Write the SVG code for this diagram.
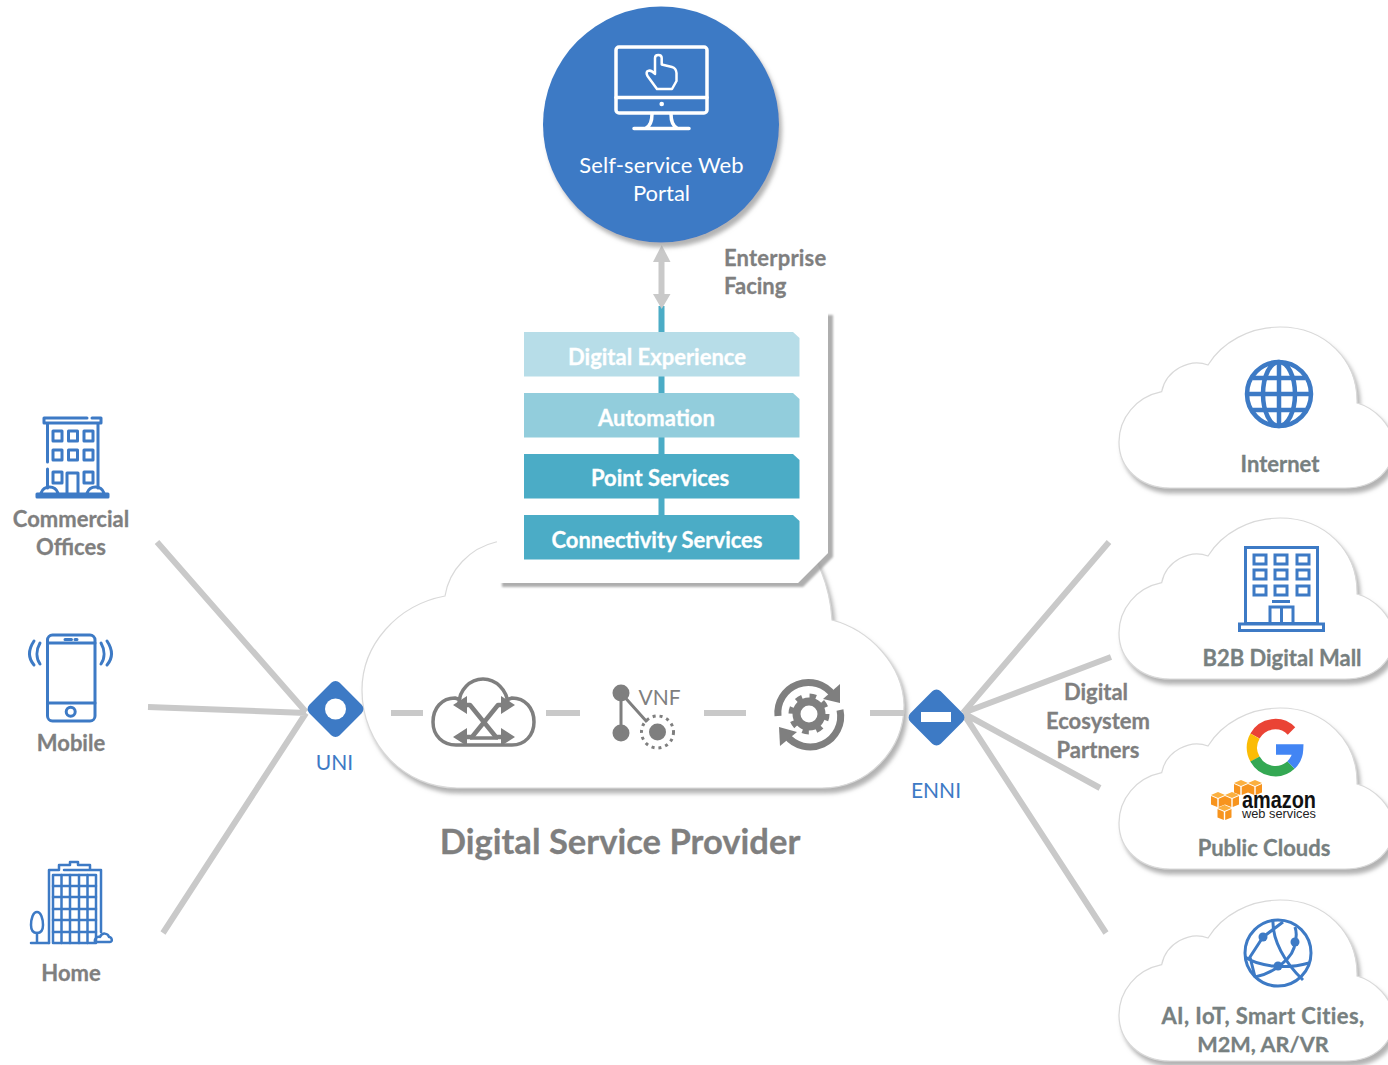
<svg xmlns="http://www.w3.org/2000/svg" width="1388" height="1065" viewBox="0 0 1388 1065">
<style>
text{font-family:"Lato","Open Sans","Liberation Sans",sans-serif;text-anchor:middle}
.lbl{font-weight:700;font-size:22px;fill:#7f7f7f;stroke:#7f7f7f;stroke-width:.3}
.rl{font-weight:700;font-size:22px;fill:#778080;stroke:#778080;stroke-width:.3}
.bar{font-weight:700;font-size:22px;fill:#fff;stroke:#fff;stroke-width:.3}
.blue{font-size:21px;fill:#3d7ac5}
.ic{fill:none;stroke:#3d7ac5;stroke-width:3;stroke-linejoin:round;stroke-linecap:round}
.gi{fill:none;stroke:#7f7f7f;stroke-width:3.5;stroke-linejoin:round}
.gf{fill:#7f7f7f}
.cl{fill:#fff;stroke:#d9d9d9;stroke-width:1.2;filter:url(#sh)}
.ln{stroke:#c9c9c9;stroke-width:6;fill:none}
</style>
<defs>
<filter id="sh" x="-10%" y="-10%" width="125%" height="125%"><feDropShadow dx="3" dy="5" stdDeviation="2" flood-color="#9a9a9a" flood-opacity=".75"/></filter>
<filter id="shp" x="-5%" y="-5%" width="115%" height="115%"><feDropShadow dx="5" dy="4" stdDeviation="1.300" flood-color="#9a9a9a" flood-opacity=".8"/></filter>
<path id="cloud" d="M1161.7 391.7C1166 370 1190 358 1208 365C1222 342 1250 327 1280 327C1325 327 1358 360 1357 403C1375 408 1392 425 1394 445C1394 470 1375 488 1345 488L1170 488C1140 488 1119 468 1119 442C1119 418 1136 397 1161.7 391.7Z"/>
<g id="cube"><path d="M0 -6L7 -3L0 0L-7 -3Z" fill="#fbb040"/><path d="M-7 -2L-.7 .8V9L-7 6.500Z" fill="#f7941e"/><path d="M7 -2L.7 .8V9L7 6.500Z" fill="#f7941e"/></g>
</defs>

<g id="connectors">
<path class="ln" d="M157 542L306 712M148 707L306 713M163 933L306 713"/>
<path class="ln" d="M1109 542L963 713M1111 657L963 713M1100 788L963 713M1106 933L963 713"/>
</g>

<g id="provider-cloud">
<path class="cl" d="M445 596C449 570 470 548 496 542L600 530L800 540C815 550 830 585 832 620C870 630 903 665 904 705C904 750 868 788 822 788L457 788C405 788 362 745 362 690C362 645 397 605 445 596Z"/>
<text x="620" y="854" style="font-weight:700;font-size:34.600px;fill:#7f7f7f;stroke:#7f7f7f;stroke-width:.3">Digital Service Provider</text>
<path class="ln" d="M391 713H423M546 713H580M704 713H746M870 713H904"/>
</g>

<g id="switch-icon">
<path class="gi" d="M461 700L455 698C442 698 433 708 433 722C433 736 443 745 456 745H512C525 745 534 735 534 722C534 708 525 698 512 698L506 700"/>
<path class="gi" d="M459 704C459 690 470 679 483 679C496 679 507 690 508 704"/>
<path class="gi" style="stroke-width:4.500" d="M460 705H470L496 737H508M508 705H498L472 737H460"/>
<path class="gi" d="M470 738H498"/>
<path class="gf" d="M453 705L467 696V714ZM515 705L501 696V714ZM453 737L467 728V746ZM515 737L501 728V746Z"/>
</g>

<g id="vnf-icon">
<circle class="gf" cx="621" cy="693" r="8.500"/><circle class="gf" cx="621" cy="733" r="8.500"/>
<path d="M621 693V733M621 693L647 722" stroke="#7f7f7f" stroke-width="3" fill="none"/>
<circle class="gf" cx="657.500" cy="732" r="8.500"/>
<circle cx="657.500" cy="732" r="16" fill="none" stroke="#7f7f7f" stroke-width="3" stroke-dasharray="3 4"/>
<text x="659.500" y="705" style="font-size:21px;fill:#7f7f7f">VNF</text>
</g>

<g id="gear-icon">
<path d="M778 716A30.500 30.500 0 0 1 833 695" fill="none" stroke="#7f7f7f" stroke-width="7"/>
<path class="gf" d="M840 684L840 703L823 699Z"/>
<path d="M840 710A30.500 30.500 0 0 1 786 735" fill="none" stroke="#7f7f7f" stroke-width="7"/>
<path class="gf" d="M780 746L779 727L797 732Z"/>
<circle cx="809" cy="714" r="18" fill="none" stroke="#7f7f7f" stroke-width="5" stroke-dasharray="6.500 7.640"/>
<circle cx="809" cy="714" r="12.500" fill="none" stroke="#7f7f7f" stroke-width="8"/>
</g>

<g id="stack-panel">
<path d="M497 311H828V553L798 583H497Z" fill="#fff" filter="url(#shp)"/>
<path d="M488 300H826V311H488ZM488 300H499V541H488Z" fill="#fff"/>
<path d="M661.500 306V515" stroke="#4bacc6" stroke-width="6"/>
</g>

<g id="portal-link">
<path d="M661.500 258V298" stroke="#c9c9c9" stroke-width="6"/>
<path d="M661.700 245L670.500 262H653Z" fill="#c9c9c9"/>
<path d="M661.700 309L670.500 294H653Z" fill="#c9c9c9"/>
</g>

<g id="digital-experience"><path d="M524 332H793L799.500 338V376.500H524Z" fill="#b7dde8"/><text class="bar" x="657" y="365">Digital Experience</text></g>
<g id="automation"><path d="M524 393H793L799.500 399V437.500H524Z" fill="#92cddc"/><text class="bar" x="656.500" y="426">Automation</text></g>
<g id="point-services"><path d="M524 454H793L799.500 460V498.500H524Z" fill="#4bacc6"/><text class="bar" x="660" y="486">Point Services</text></g>
<g id="connectivity-services"><path d="M524 515H793L799.500 521V559.500H524Z" fill="#4bacc6"/><text class="bar" x="657" y="548">Connectivity Services</text></g>

<g id="enterprise-facing">
<text class="lbl" x="724" y="266" style="text-anchor:start;letter-spacing:.2px">Enterprise</text>
<text class="lbl" x="724" y="294" style="text-anchor:start">Facing</text>
</g>

<g id="portal">
<circle cx="661" cy="124.500" r="118" fill="#3d7ac5" filter="url(#sh)"/>
<g fill="none" stroke="#fff" stroke-width="3.500" stroke-linejoin="round" stroke-linecap="round">
<rect x="616" y="47" width="91" height="66" rx="3"/>
<path d="M616 97.500H707M652 114C652 122 650 126 646 128M671 114C671 122 673 126 677 128M634 128.500H689"/>
<path stroke-width="2.500" d="M655 70V58Q655 55 658.300 55Q661.700 55 661.700 58V64.500L672 67Q676 68 676.500 73V81L672 89H657L647.500 76Q645.500 72 648 71Q651 69.500 655 74Z"/>
</g>
<circle cx="661.700" cy="104" r="2.300" fill="#fff"/>
<text x="661.500" y="173" style="font-size:22px;fill:#fff;letter-spacing:.1px">Self-service Web</text>
<text x="661.500" y="201" style="font-size:22px;fill:#fff">Portal</text>
</g>

<g id="uni">
<rect x="314" y="687.500" width="43" height="43" rx="6" transform="rotate(45 335.500 709)" fill="#3d7ac5"/>
<circle cx="335.500" cy="709" r="10.500" fill="#fff"/>
<text class="blue" x="334.500" y="770">UNI</text>
</g>
<g id="enni">
<rect x="915" y="696" width="43" height="43" rx="6" transform="rotate(45 936.500 717.500)" fill="#3d7ac5"/>
<rect x="921" y="712" width="30" height="10" fill="#fff"/>
<text class="blue" x="936" y="798">ENNI</text>
</g>

<g id="commercial-offices">
<g class="ic">
<path d="M87 418H44V423H101V418H92"/>
<path d="M47.500 424V462M47.500 469V488M98 424V488"/>
<rect x="53" y="431" width="9" height="10"/><rect x="68.500" y="431" width="9" height="10"/><rect x="84" y="431" width="9" height="10"/>
<rect x="53" y="450" width="9" height="10"/><rect x="68.500" y="450" width="9" height="10"/><rect x="84" y="450" width="9" height="10"/>
<rect x="53" y="472" width="9" height="11"/><rect x="84" y="472" width="9" height="11"/>
<path d="M67 494V473H78V494M37 497H108V494H37ZM41 493C44 485 55 485 58 493M87 493C90 485 101 485 104 493"/>
</g>
<text class="lbl" x="71" y="526.500">Commercial</text>
<text class="lbl" x="71" y="554.500">Offices</text>
</g>

<g id="mobile">
<g class="ic">
<rect x="47.500" y="635" width="47.500" height="86" rx="5"/>
<path d="M47.500 643H95M47.500 703H95M65 639.500H71.500M75 639.500H77"/>
<circle cx="70.700" cy="711.700" r="4.500"/>
<path d="M40 643C36 650 36 658 40 664M34 641C28 650 28 658 34 665M101 643C105 650 105 658 101 664M107 641C113 650 113 658 107 665"/>
</g>
<text class="lbl" x="71" y="750.500">Mobile</text>
</g>

<g id="home">
<g class="ic" style="stroke-width:2.500">
<rect x="53" y="875" width="43" height="68"/>
<path d="M53 886H96M53 897H96M53 909H96M53 920H96M53 932H96M61.500 875V943M70 875V943M79 875V943M87.500 875V943"/>
<path d="M49 943V870H59V865H70V862H78V865H90V870H64M101 870V932M90 870H101"/>
<path d="M31 943H49M37 943V933"/>
<path d="M37 912C41 912 43 919 43 925C43 930 41 933 37 933C33 933 31 930 31 925C31 919 33 912 37 912Z"/>
<path d="M95 942C94 938 98 936 100 937C102 932 108 933 109 937C112 937 113 942 110 942Z"/>
</g>
<text class="lbl" x="71" y="980.500">Home</text>
</g>

<g id="internet">
<use href="#cloud" class="cl"/>
<g fill="none" stroke="#3d7ac5" stroke-width="4.500">
<circle cx="1279" cy="394" r="32"/>
<ellipse cx="1279" cy="394" rx="16" ry="32"/>
<path d="M1279 362V426M1248 394H1310M1253 378H1305M1253 410H1305"/>
</g>
<text class="rl" x="1280" y="471.500">Internet</text>
</g>

<g id="b2b-digital-mall">
<use href="#cloud" class="cl" y="191"/>
<g fill="none" stroke="#3d7ac5" stroke-width="3">
<rect x="1245.500" y="547.500" width="72" height="76"/>
<rect x="1239.500" y="624" width="84" height="6.500"/>
<rect x="1254" y="555" width="12" height="9"/><rect x="1275" y="555" width="12" height="9"/><rect x="1297" y="555" width="12" height="9"/>
<rect x="1254" y="570" width="12" height="9"/><rect x="1275" y="570" width="12" height="9"/><rect x="1297" y="570" width="12" height="9"/>
<rect x="1254" y="586" width="12" height="9"/><rect x="1275" y="586" width="12" height="9"/><rect x="1297" y="586" width="12" height="9"/>
<path d="M1272 601.500H1290M1270 624V607H1293V624M1281.500 607V624"/>
</g>
<text class="rl" x="1282" y="666">B2B Digital Mall</text>
</g>

<g id="public-clouds">
<use href="#cloud" class="cl" y="381"/>
<g fill="none" stroke-width="10.500">
<path d="M1255 736A23 23 0 0 1 1291.500 731" stroke="#ea4335"/>
<path d="M1255 736A23 23 0 0 0 1255 759" stroke="#fbbc05"/>
<path d="M1255 759A23 23 0 0 0 1291 765" stroke="#34a853"/>
<path d="M1291 765A23 23 0 0 0 1298 749.500H1276" stroke="#4285f4"/>
</g>
<use href="#cube" x="1241" y="786"/><use href="#cube" x="1255" y="786"/>
<use href="#cube" x="1218" y="798"/><use href="#cube" x="1232" y="798"/>
<use href="#cube" x="1224.500" y="811"/>
<text x="1279" y="808" style="font-family:'Liberation Sans',sans-serif;font-weight:700;font-size:23px;fill:#111" textLength="74" lengthAdjust="spacingAndGlyphs">amazon</text>
<text x="1279" y="818" style="font-family:'Liberation Sans',sans-serif;font-size:12.500px;fill:#222" textLength="74" lengthAdjust="spacingAndGlyphs">web services</text>
<text class="rl" x="1264" y="855.500">Public Clouds</text>
</g>

<g id="ai-iot">
<use href="#cloud" class="cl" y="573"/>
<g fill="none" stroke="#3d7ac5" stroke-width="3">
<circle cx="1278" cy="953" r="33"/>
<path d="M1283 922L1263 937L1250 957L1255 977M1273 920C1272 940 1285 963 1303 980M1245 957C1258 966 1285 970 1309 963M1255 977C1272 974 1295 958 1295 942C1297 936 1296 930 1295 927"/>
</g>
<g fill="#3d7ac5"><circle cx="1263" cy="937" r="4.500"/><circle cx="1295" cy="942" r="4.500"/><circle cx="1278" cy="966" r="4.500"/></g>
<text class="rl" x="1263" y="1023.500" style="letter-spacing:.4px">AI, IoT, Smart Cities,</text>
<text class="rl" x="1263" y="1052" style="font-size:21.700px">M2M, AR/VR</text>
</g>

<g id="ecosystem-label">
<text class="lbl" x="1096" y="699.500">Digital</text>
<text class="lbl" x="1098" y="728.500">Ecosystem</text>
<text class="lbl" x="1098" y="757.500">Partners</text>
</g>
</svg>
